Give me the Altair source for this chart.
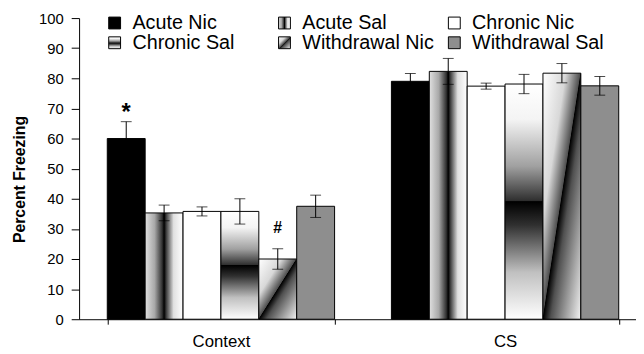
import altair as alt
import pandas as pd

groups = ["Context", "CS"]
conditions = ["Acute Nic", "Acute Sal", "Chronic Nic", "Chronic Sal", "Withdrawal Nic", "Withdrawal Sal"]
context_means = [60.0, 35.3, 35.8, 35.8, 20.0, 37.5]
context_sem = [5.6, 2.6, 1.5, 4.2, 3.4, 3.7]
cs_means = [79.0, 82.3, 77.4, 78.1, 81.7, 77.5]
cs_sem = [2.6, 4.3, 1.0, 3.2, 3.2, 3.1]

ann_group = ["Context", "Context"]
ann_cond = ["Acute Nic", "Withdrawal Nic"]
ann_text = ["*", "#"]
ann_y = [68.5, 30.2]

rows = []
for g, means, sems in [("Context", context_means, context_sem), ("CS", cs_means, cs_sem)]:
    for c, m, s in zip(conditions, means, sems):
        rows.append({"group": g, "cond": c, "mean": m, "lo": m - s, "hi": m + s})
df = pd.DataFrame(rows)
ann_df = pd.DataFrame({"group": ann_group, "cond": ann_cond, "txt": ann_text, "y": ann_y})

FONT = "Liberation Sans"

def grad(x2, y2, stops):
    s = ", ".join("{offset: %s, color: '%s'}" % (o, c) for o, c in stops)
    return {"expr": "{gradient: 'linear', x1: 0, y1: 0, x2: %s, y2: %s, stops: [%s]}" % (x2, y2, s)}

fills = [
    "#000000",
    grad(1, 0, [(0, "#e0e0e0"), (0.25, "#a8a8a8"), (0.45, "#303030"), (0.5, "#000000"),
                (0.56, "#404040"), (0.75, "#e0e0e0"), (1, "#ffffff")]),
    "#ffffff",
    grad(0, 1, [(0, "#ffffff"), (0.15, "#f4f4f4"), (0.35, "#a0a0a0"), (0.495, "#303030"),
                (0.5, "#000000"), (0.6, "#303030"), (0.8, "#c0c0c0"), (1, "#ffffff")]),
    grad(1, 1, [(0, "#ffffff"), (0.3, "#d8d8d8"), (0.49, "#505050"), (0.5, "#000000"),
                (0.6, "#505050"), (1, "#f4f4f4")]),
    "#8e8e8e",
]

x_enc = alt.X(
    "group:N", sort=groups,
    scale=alt.Scale(paddingInner=0.2, paddingOuter=0.08, align=0.62),
    axis=alt.Axis(title=None, labelAngle=0, tickBand="extent", tickSize=5, tickColor="black",
                  domainColor="black", labelFont=FONT, labelFontSize=17, labelColor="black",
                  labelPadding=10),
)
xo_enc = alt.XOffset("cond:N", sort=conditions, scale=alt.Scale(paddingInner=0, paddingOuter=0))
y_scale = alt.Scale(domain=[0, 100])
y_axis = alt.Axis(title="Percent Freezing", values=list(range(0, 101, 10)), grid=False,
                  domainColor="black", tickColor="black", tickSize=8, labelPadding=8,
                  labelFont=FONT, labelFontSize=15, labelColor="black",
                  titleFont=FONT, titleFontSize=16, titleFontWeight="bold",
                  titleColor="black", titleX=-60, titleY=163, titleBaseline="middle",
                  labelOverlap=False)


def Y(field):
    return alt.Y(field, scale=y_scale, axis=y_axis)


base = alt.Chart(df).encode(x=x_enc, xOffset=xo_enc)

bars = base.mark_bar(stroke="black", strokeWidth=1).encode(
    y=Y("mean:Q"),
    color=alt.Color("cond:N", sort=conditions,
                    scale=alt.Scale(domain=conditions, range=fills),
                    legend=alt.Legend(title=None, orient="none", legendX=26, legendY=-5,
                                      direction="horizontal",
                                      columns=3, gridAlign="all", columnPadding=10, rowPadding=0,
                                      labelFont=FONT, labelFontSize=20, labelColor="black",
                                      labelOffset=8, padding=0, symbolType="square",
                                      symbolSize=144, symbolStrokeColor="black",
                                      symbolStrokeWidth=1)),
)

rules = base.mark_rule(color="black", strokeWidth=1).encode(y=Y("lo:Q"), y2="hi:Q")
cap_hi = base.mark_tick(color="black", thickness=1, size=11).encode(y=Y("hi:Q"))
cap_lo = base.mark_tick(color="black", thickness=1, size=11).encode(y=Y("lo:Q"))

texts = alt.Chart(ann_df).mark_text(font=FONT, fontSize=17, fontWeight="bold", color="black").encode(
    x=x_enc, xOffset=xo_enc, y=Y("y:Q"), text="txt:N",
    size=alt.Size("txt:N", scale=alt.Scale(domain=ann_text, range=[24, 16]), legend=None))

chart = alt.layer(bars, rules, cap_hi, cap_lo, texts).properties(
    width=564, height=305,
    padding={"left": 72, "top": 8, "right": 0, "bottom": 32},
    autosize="none",
    background="white",
).configure_view(stroke=None)

chart.save("out.html", embed_options={"renderer": "svg", "actions": False})
